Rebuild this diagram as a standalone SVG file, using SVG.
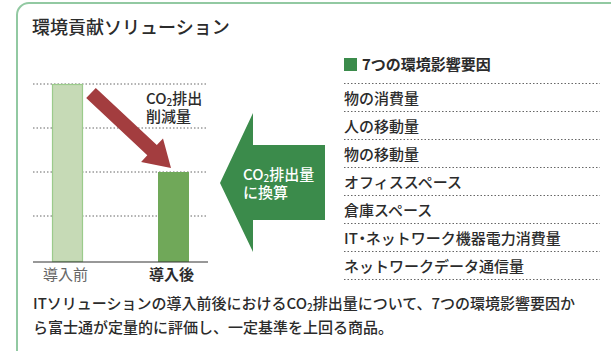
<svg xmlns="http://www.w3.org/2000/svg" width="611" height="351" viewBox="0 0 611 351">
<style>
text{font-family:"Noto Sans CJK JP","Noto Sans",sans-serif;fill:#2b2b2b;font-weight:500}
.t{font-size:15px}
.b{font-weight:bold}
.w{fill:#fff}
.dot{stroke:#666;stroke-width:1;stroke-dasharray:1.5 2}
.sub{font-size:10px}
</style>
<rect x="17" y="3" width="620" height="380" rx="12" fill="#fff" stroke="#92c9a2" stroke-width="2"/>
<g id="title"><text x="32" y="34" style="font-size:18px">環境貢献ソリューション</text></g>
<g id="chart">
<line class="dot" x1="33" y1="84" x2="208" y2="84"/>
<line class="dot" x1="33" y1="128" x2="208" y2="128"/>
<line class="dot" x1="33" y1="172" x2="208" y2="172"/>
<line class="dot" x1="33" y1="216" x2="208" y2="216"/>
<rect id="bar-before" x="52.5" y="84.5" width="30" height="177" fill="#c6dab6" stroke="#9bcb8b" stroke-width="1.2"/>
<rect id="bar-after" x="158" y="172" width="31" height="90" fill="#70a859"/>
<line x1="33" y1="262" x2="208" y2="262" stroke="#333" stroke-width="1.2"/>
<text class="t" x="43" y="280" style="fill:#666;font-weight:400">導入前</text>
<text class="t b" x="149" y="280">導入後</text>
</g>
<g id="reduction-arrow">
<polygon points="95.8,87.9 156.8,145.1 163.0,138.6 171,168 141.1,161.9 147.3,155.3 86.2,98.1" fill="#a33d3f"/>
<text class="t" x="146" y="104">CO<tspan class="sub" dy="2">2</tspan><tspan dy="-2">排出</tspan></text>
<text class="t" x="146" y="122">削減量</text>
</g>
<g id="convert-arrow">
<polygon points="325,145 253,145 253,113 220,183 253,252 253,220 325,220" fill="#3b8b4b"/>
<text class="t w" x="243" y="180">CO<tspan class="sub w" dy="2">2</tspan><tspan dy="-2">排出量</tspan></text>
<text class="t w" x="243" y="198">に換算</text>
</g>
<g id="factors">
<rect x="344" y="58" width="13" height="13" fill="#3b8b4b"/>
<text class="t b" x="362" y="70">7つの環境影響要因</text>
<line class="dot" x1="344" y1="83.5" x2="600" y2="83.5"/>
<line class="dot" x1="344" y1="111.5" x2="600" y2="111.5"/>
<line class="dot" x1="344" y1="139.5" x2="600" y2="139.5"/>
<line class="dot" x1="344" y1="167.5" x2="600" y2="167.5"/>
<line class="dot" x1="344" y1="195.5" x2="600" y2="195.5"/>
<line class="dot" x1="344" y1="223.5" x2="600" y2="223.5"/>
<line class="dot" x1="344" y1="251.5" x2="600" y2="251.5"/>
<line class="dot" x1="344" y1="279.5" x2="600" y2="279.5"/>
<text class="t" x="344" y="104">物の消費量</text>
<text class="t" x="344" y="132">人の移動量</text>
<text class="t" x="344" y="160">物の移動量</text>
<text class="t" x="344" y="188">オフィススペース</text>
<text class="t" x="344" y="216">倉庫スペース</text>
<text class="t" x="344" y="244">IT<tspan dx="-3">・</tspan><tspan dx="-4">ネットワーク機器電力消費量</tspan></text>
<text class="t" x="344" y="272">ネットワークデータ通信量</text>
</g>
<g id="caption">
<text class="t" x="33" y="309">ITソリューションの導入前後におけるCO<tspan class="sub" dy="2">2</tspan><tspan dy="-2">排出量について、7つの環境影響要因か</tspan></text>
<text class="t" x="33" y="333">ら富士通が定量的に評価し、一定基準を上回る商品。</text>
</g>
</svg>
